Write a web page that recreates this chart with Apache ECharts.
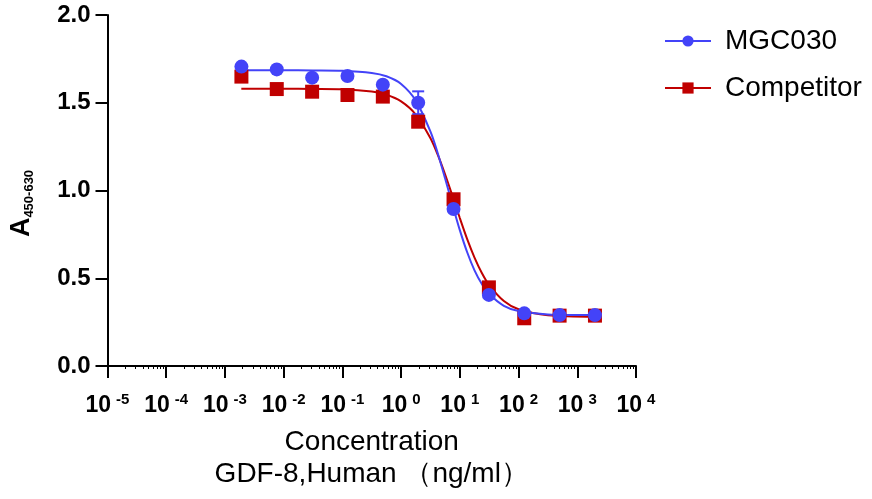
<!DOCTYPE html>
<html>
<head>
<meta charset="utf-8">
<script src="https://cdn.jsdelivr.net/npm/echarts@6/dist/echarts.min.js"></script>
<style>html,body{margin:0;padding:0;background:#fff;}#chart{width:872px;height:499px;}</style>
</head>
<body>
<div id="chart"></div>
<script>
// Measured points (concentration in ng/ml, absorbance A450-630)
const concentrations = [0.0019073, 0.0076294, 0.030518, 0.12207, 0.48828, 1.953125, 7.8125, 31.25, 125, 500, 2000];
const mgc030Values = [1.706, 1.69, 1.643, 1.652, 1.603, 1.50, 0.895, 0.405, 0.30, 0.29, 0.29];
const mgc030Errors = [0, 0, 0, 0, 0, 0.065, 0, 0, 0, 0, 0];
const competitorValues = [1.649, 1.578, 1.563, 1.544, 1.535, 1.392, 0.95, 0.448, 0.272, 0.287, 0.287];

// Fitted curves
const curveX = [0.0019, 0.01, 0.0316, 0.1, 0.316, 0.562, 1, 1.778, 3.162, 4.217, 5.623, 7.499, 10, 13.34, 17.78, 23.71, 31.62, 56.23, 100, 316.2, 2000];
const mgc030Curve = [1.685, 1.685, 1.684, 1.682, 1.670, 1.651, 1.607, 1.512, 1.335, 1.211, 1.068, 0.918, 0.774, 0.648, 0.545, 0.467, 0.410, 0.343, 0.313, 0.294, 0.290];
const competitorCurve = [1.580, 1.580, 1.579, 1.577, 1.564, 1.546, 1.508, 1.433, 1.298, 1.203, 1.091, 0.968, 0.843, 0.723, 0.618, 0.530, 0.461, 0.370, 0.323, 0.289, 0.281];

const seriesNames = ['MGC030', 'Competitor'];

const BLUE = '#4343F8';
const RED = '#C00000';
const FONT = 'Liberation Sans, Arial, sans-serif';

const zip = (xs, ys) => xs.map((x, i) => [x, ys[i]]);

const chart = echarts.init(document.getElementById('chart'));
chart.setOption({
  animation: false,
  backgroundColor: '#fff',
  grid: { left: 107, right: 236, top: 15, bottom: 133, containLabel: false },
  legend: {
    data: seriesNames,
    orient: 'vertical',
    left: 659,
    top: 22,
    itemWidth: 46,
    itemHeight: 14,
    itemGap: 19,
    textStyle: { fontSize: 28, color: '#000', fontFamily: FONT, padding: [0, 0, 0, 9] }
  },
  xAxis: {
    type: 'log',
    logBase: 10,
    min: 1e-5,
    max: 1e4,
    splitNumber: 9,
    name: 'Concentration\nGDF-8,Human （ng/ml）',
    nameLocation: 'middle',
    nameGap: 60,
    nameTextStyle: { fontSize: 28, color: '#000', fontFamily: FONT, lineHeight: 32 },
    axisLine: { lineStyle: { color: '#000', width: 2 } },
    axisTick: { show: true, length: 12, lineStyle: { color: '#000', width: 2 } },
    minorTick: { show: true, splitNumber: 9, length: 3, lineStyle: { color: '#000', width: 1 } },
    splitLine: { show: false },
    axisLabel: {
      margin: 26,
      formatter: v => '{b|10}{s|' + Math.round(Math.log10(v)) + '}',
      rich: {
        b: { fontSize: 23, fontWeight: 'bold', color: '#000', fontFamily: FONT, lineHeight: 28 },
        s: { fontSize: 15, fontWeight: 'bold', color: '#000', fontFamily: FONT, lineHeight: 14, verticalAlign: 'top', padding: [0, 0, 0, 5] }
      }
    }
  },
  yAxis: {
    type: 'value',
    min: 0,
    max: 2,
    interval: 0.5,
    name: '{a|A}{s|450-630}',
    nameLocation: 'middle',
    nameGap: 72,
    nameTextStyle: {
      padding: [0, 0, 0, -26],
      rich: {
        a: { fontSize: 27, fontWeight: 'bold', color: '#000', fontFamily: FONT, lineHeight: 28 },
        s: { fontSize: 13, fontWeight: 'bold', color: '#000', fontFamily: FONT, lineHeight: 14, verticalAlign: 'bottom' }
      }
    },
    axisLine: { show: true, lineStyle: { color: '#000', width: 2 } },
    axisTick: { show: true, length: 12, lineStyle: { color: '#000', width: 2 } },
    splitLine: { show: false },
    axisLabel: {
      margin: 17,
      fontSize: 24,
      fontWeight: 'bold',
      color: '#000',
      fontFamily: FONT,
      formatter: v => v.toFixed(1)
    }
  },
  series: [
    {
      name: 'MGC030', type: 'line', data: zip(curveX, mgc030Curve),
      smooth: 0.3, symbol: 'circle', symbolSize: 14, showSymbol: false,
      lineStyle: { color: BLUE, width: 2 }, itemStyle: { color: BLUE }, z: 3
    },
    {
      name: 'Competitor', type: 'line', data: zip(curveX, competitorCurve),
      smooth: 0.3, symbol: 'rect', symbolSize: 14, showSymbol: false,
      lineStyle: { color: RED, width: 2 }, itemStyle: { color: RED }, z: 2
    },
    {
      name: 'MGC030', type: 'custom',
      data: concentrations.map((c, i) => [c, mgc030Values[i], mgc030Errors[i]]).filter(d => d[2] > 0),
      renderItem: (params, api) => {
        const x = api.value(0), y = api.value(1), e = api.value(2);
        const top = api.coord([x, y + e]);
        const bot = api.coord([x, y - e]);
        const hw = 6;
        const style = { stroke: BLUE, lineWidth: 2 };
        return {
          type: 'group',
          children: [
            { type: 'line', shape: { x1: top[0], y1: top[1], x2: bot[0], y2: bot[1] }, style },
            { type: 'line', shape: { x1: top[0] - hw, y1: top[1], x2: top[0] + hw, y2: top[1] }, style },
            { type: 'line', shape: { x1: bot[0] - hw, y1: bot[1], x2: bot[0] + hw, y2: bot[1] }, style }
          ]
        };
      },
      z: 4
    },
    {
      name: 'Competitor', type: 'scatter', data: zip(concentrations, competitorValues),
      symbol: 'rect', symbolSize: 14, itemStyle: { color: RED, opacity: 1 }, z: 5
    },
    {
      name: 'MGC030', type: 'scatter', data: zip(concentrations, mgc030Values),
      symbol: 'circle', symbolSize: 14, itemStyle: { color: BLUE, opacity: 1 }, z: 6
    }
  ]
});
</script>
</body>
</html>
